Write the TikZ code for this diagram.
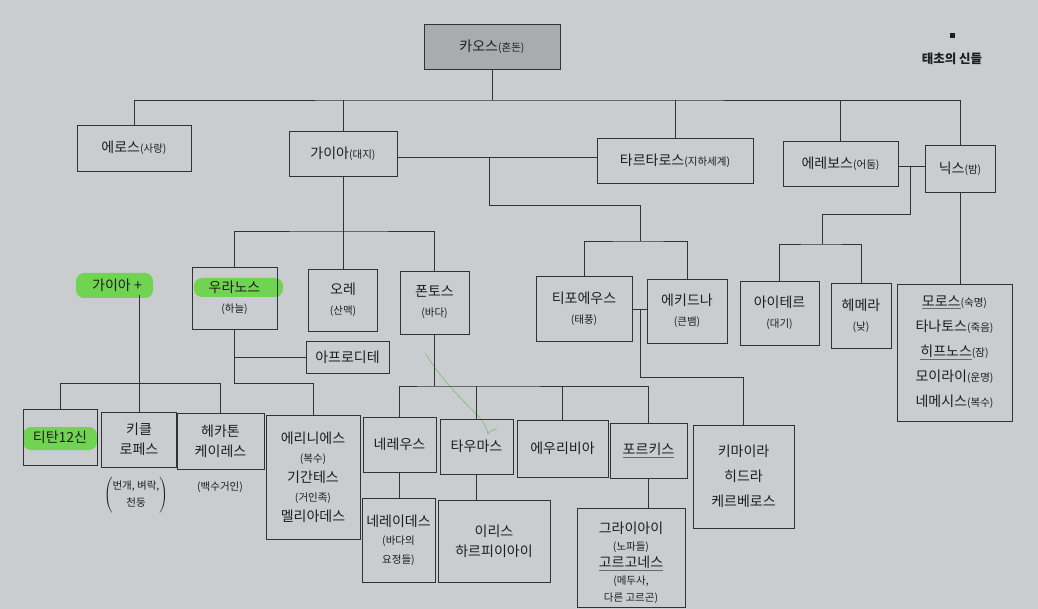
\documentclass[tikz,border=0pt]{standalone}
\usepackage{fontspec}
\setmainfont{Noto Sans CJK KR}
\definecolor{bg}{RGB}{201,205,208}
\definecolor{chaosfill}{RGB}{168,172,175}
\definecolor{ln}{RGB}{50,50,50}
\definecolor{hl}{RGB}{112,212,82}
\definecolor{ink}{RGB}{30,30,30}
\definecolor{pencil}{RGB}{105,105,105}
\definecolor{scrib}{RGB}{120,190,110}
\newcommand\sm[1]{{\fontsize{10.5}{12}\selectfont #1}}
\newcommand\pu[1]{{\color{pencil}\underline{\color{ink}#1}}}
\begin{document}
\begin{tikzpicture}[x=1pt,y=-1pt,
  every node/.style={text=ink},
  box/.style={draw=ln, line width=0.8pt, inner sep=0pt, align=center, font=\fontsize{14}{20}\selectfont},
  conn/.style={draw=ln, line width=0.8pt}]
\fill[bg] (0,0) rectangle (1038,609);
\useasboundingbox (0,0) rectangle (1038,609);
% highlights
\fill[hl, rounded corners=8pt] (76,273) rectangle (153,298);
\fill[hl, rounded corners=8pt] (194,278) rectangle (283,297);
\fill[hl, rounded corners=8pt] (23,427) rectangle (97,450);
% green scribble
\draw[scrib, line width=0.6pt] (425,353) .. controls (445,385) and (468,405) .. (480,418) .. controls (486,426) and (487,430) .. (488,434) .. controls (490,431) and (494,429) .. (497,429);
% title
\node[fill=ink, minimum size=5pt, inner sep=0pt] (sq) at (952,36) {};
\node[font=\fontsize{12.5}{14}\selectfont\bfseries] (title) at (952,59) {태초의 신들};
% row 1-2
\node[box, fill=chaosfill, minimum width=136pt, minimum height=45pt] (chaos) at (492,46.5) {카오스\sm{(혼돈)}};
\node[box, minimum width=114pt, minimum height=46pt] (eros) at (134,148) {에로스\sm{(사랑)}};
\node[box, minimum width=108pt, minimum height=45pt] (gaia) at (343,153.5) {가이아\sm{(대지)}};
\node[box, minimum width=156pt, minimum height=45pt] (tart) at (675,160.5) {타르타로스\sm{(지하세계)}};
\node[box, minimum width=115pt, minimum height=45pt] (ereb) at (840.5,163.5) {에레보스\sm{(어둠)}};
\node[box, minimum width=70pt, minimum height=47pt] (nyx) at (960,168.5) {닉스\sm{(밤)}};
% row 3
\node[font=\fontsize{14}{20}\selectfont] (gplus) at (117,285) {가이아 +};
\node[box, minimum width=85pt, minimum height=62pt] (uran) at (234.5,298) {우라노스\\\sm{(하늘)}};
\node[box, minimum width=69pt, minimum height=62pt] (ore) at (343,300) {오레\\\sm{(산맥)}};
\node[box, minimum width=69pt, minimum height=63pt] (pont) at (434.5,302.5) {폰토스\\\sm{(바다)}};
\node[box, minimum width=83pt, minimum height=32pt] (aph) at (347.5,357) {아프로디테};
\node[box, minimum width=96pt, minimum height=65pt] (typh) at (584,308.5) {티포에우스\\\sm{(태풍)}};
\node[box, minimum width=80pt, minimum height=64pt] (echi) at (687,311) {에키드나\\\sm{(큰뱀)}};
\node[box, minimum width=79pt, minimum height=64pt] (aith) at (779.5,313) {아이테르\\\sm{(대기)}};
\node[box, minimum width=60pt, minimum height=65pt] (hem) at (861,315.5) {헤메라\\\sm{(낮)}};
\node[box, minimum width=115pt, minimum height=137pt, font=\fontsize{14}{25}\selectfont] (kids) at (954.5,352.5)
  {\pu{모로스}\sm{(숙명)}\\타나토스\sm{(죽음)}\\\pu{히프노스}\sm{(잠)}\\모이라이\sm{(운명)}\\네메시스\sm{(복수)}};
% row 4
\node[box, minimum width=74pt, minimum height=56pt] (titan) at (60,437) {티탄12신};
\node[box, minimum width=75pt, minimum height=55pt] (cycl) at (139,439.5) {키클\\로페스};
\node[box, minimum width=87pt, minimum height=56pt] (hek) at (220.5,441) {헤카톤\\케이레스};
\node[box, minimum width=94pt, minimum height=124pt, font=\fontsize{14}{19.5}\selectfont] (eri) at (313,477)
  {에리니에스\\\sm{(복수)}\\기간테스\\\sm{(거인족)}\\멜리아데스};
\node[box, minimum width=73pt, minimum height=55pt] (ner) at (399.5,444.5) {네레우스};
\node[box, minimum width=73pt, minimum height=55pt] (thau) at (476.5,446.5) {타우마스};
\node[box, minimum width=91pt, minimum height=57pt] (eury) at (562.5,448.5) {에우리비아};
\node[box, minimum width=77pt, minimum height=55pt] (phor) at (648.5,450.5) {\pu{포르키스}};
\node[box, minimum width=101pt, minimum height=103pt, font=\fontsize{14}{25}\selectfont] (chim) at (743.5,476.5) {키마이라\\히드라\\케르베로스};
% row 5
\node[box, minimum width=73pt, minimum height=84pt, font=\fontsize{14}{18.5}\selectfont] (nerd) at (398.5,540) {네레이데스\\\sm{(바다의}\\\sm{요정들)}};
\node[box, minimum width=112pt, minimum height=82pt] (iris) at (494,541) {이리스\\하르피이아이};
\node[box, minimum width=108pt, minimum height=99pt, font=\fontsize{14}{17}\selectfont] (grai) at (631,557.5)
  {\rule{0pt}{22pt}그라이아이\\\sm{(노파들)}\\\pu{고르고네스}\\\sm{(메두사,}\\\sm{다른 고르곤)}};
% notes
\node[font=\fontsize{10.5}{12}\selectfont] (cyclnote) at (136,495)
  {\renewcommand{\arraystretch}{1.4}$\left(\begin{array}{@{}c@{}}\mbox{번개, 벼락,}\\\mbox{천둥}\end{array}\right)$};
\node (hnote) at (220,487) {\sm{(백수거인)}};
% coordinates
\coordinate (cb) at (492,100);
\coordinate (gt) at (489,157);
\coordinate (gt2) at (640,205);
\coordinate (te) at (640,241);
\coordinate (tc) at (640,309);
\coordinate (tc2) at (743.5,377);
\coordinate (en) at (910,166);
\coordinate (en2) at (822,214);
\coordinate (ah) at (822,244);
\coordinate (gc) at (343,231);
\coordinate (ub2) at (220.5,383);
\coordinate (ueri) at (313,383);
\coordinate (pc) at (434.5,386);
% connectors
\draw[conn] (chaos.south) -- (cb);
\draw[conn] (eros.north) |- (cb) -| (nyx.north);
\draw[conn] (gaia.north) -- (gaia.north |- cb);
\draw[conn] (tart.north) -- (tart.north |- cb);
\draw[conn] (ereb.north) -- (ereb.north |- cb);
\draw[conn] (gaia.east |- gt) -- (tart.west |- gt);
\draw[conn] (gt) |- (gt2) -- (te);
\draw[conn] (typh.north) |- (te) -| (echi.north);
\draw[conn] (typh.east |- tc) -- (echi.west |- tc);
\draw[conn] (tc) |- (tc2) -- (chim.north);
\draw[conn] (ereb.east |- en) -- (nyx.west |- en);
\draw[conn] (en) |- (en2) -- (ah);
\draw[conn] (aith.north) |- (ah) -| (hem.north);
\draw[conn] (nyx.south) -- (nyx.south |- kids.north);
\draw[conn] (gaia.south) -- (gc);
\draw[conn] (uran.north) |- (gc) -| (pont.north);
\draw[conn] (ore.north) -- (ore.north |- gc);
\draw[conn] (gplus.south -| cycl.north) -- (cycl.north);
\draw[conn] (titan.north) |- (ub2) -- (hek.north);
\draw[conn] (uran.south) |- (ueri) -- (eri.north);
\draw[conn] (uran.south |- aph.west) -- (aph.west);
\draw[conn] (pont.south) -- (pc);
\draw[conn] (ner.north) |- (pc) -| (phor.north);
\draw[conn] (thau.north) -- (thau.north |- pc);
\draw[conn] (eury.north) -- (eury.north |- pc);
\draw[conn] (ner.south) -- (ner.south |- nerd.north);
\draw[conn] (thau.south) -- (thau.south |- iris.north);
\draw[conn] (phor.south) -- (phor.south |- grai.north);
\end{tikzpicture}
\end{document}
